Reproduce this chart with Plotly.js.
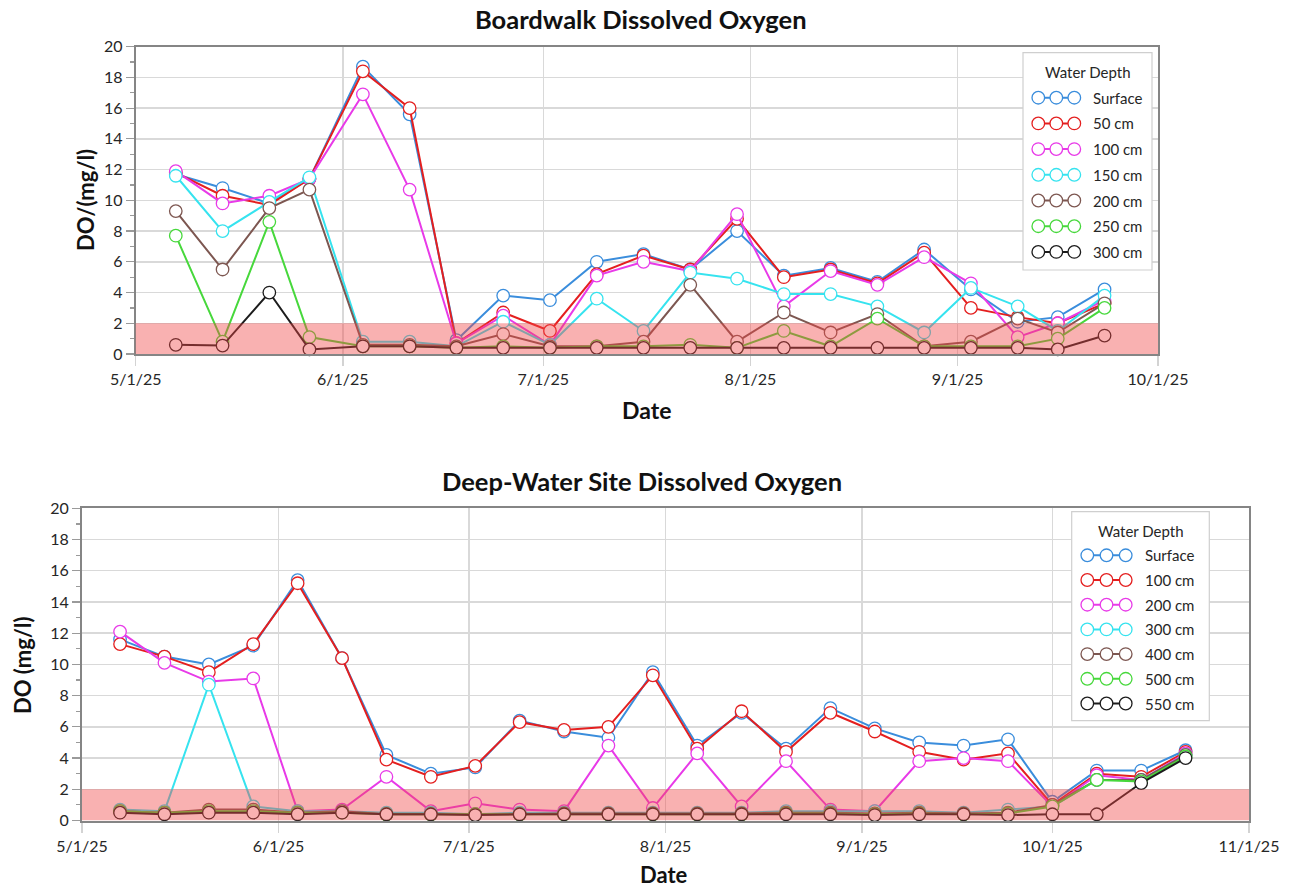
<!DOCTYPE html>
<html>
<head>
<meta charset="utf-8">
<script src="https://cdn.plot.ly/plotly-3.0.1.min.js"></script>
<style>
  html, body { margin: 0; padding: 0; background: #ffffff; }
  #chart { width: 1294px; height: 889px; }
</style>
</head>
<body>
<div id="chart"></div>
<script>
// ---- Boardwalk site: weekly DO readings (mg/l) by water depth ----
const boardwalkDates = ['2025-05-07','2025-05-14','2025-05-21','2025-05-27','2025-06-04','2025-06-11','2025-06-18',
  '2025-06-25','2025-07-02','2025-07-09','2025-07-16','2025-07-23','2025-07-30','2025-08-06','2025-08-13',
  '2025-08-20','2025-08-27','2025-09-03','2025-09-10','2025-09-16','2025-09-23'];
const bwSurface = [11.7,10.8,9.8,11.4,18.7,15.6,0.9,3.8,3.5,6.0,6.5,5.5,8.0,5.1,5.6,4.7,6.8,4.2,2.1,2.4,4.2];
const bw50  = [11.8,10.3,9.7,11.4,18.4,16.0,0.7,2.7,1.5,5.2,6.4,5.5,8.8,5.0,5.5,4.6,6.6,3.0,2.4,2.0,3.3];
const bw100 = [11.9,9.8,10.3,11.4,16.9,10.7,0.7,2.5,0.6,5.1,6.0,5.4,9.1,3.1,5.4,4.5,6.3,4.6,1.1,2.0,3.5];
const bw150 = [11.6,8.0,9.9,11.5,0.8,0.8,0.5,2.1,0.6,3.6,1.5,5.3,4.9,3.9,3.9,3.1,1.4,4.3,3.1,1.5,3.8];
const bw200 = [9.3,5.5,9.5,10.7,0.6,0.6,0.5,1.3,0.5,0.5,0.8,4.5,0.8,2.7,1.4,2.6,0.5,0.8,2.3,1.4,3.3];
const bw250 = [7.7,0.8,8.6,1.1,0.5,0.5,0.4,0.5,0.4,0.5,0.5,0.6,0.4,1.5,0.5,2.3,0.5,0.5,0.5,1.0,3.0];
const bw300 = [0.6,0.55,4.0,0.3,0.5,0.5,0.4,0.4,0.4,0.4,0.4,0.4,0.4,0.4,0.4,0.4,0.4,0.4,0.4,0.3,1.2];
const bwNames = ['Surface','50 cm','100 cm','150 cm','200 cm','250 cm','300 cm'];

// ---- Deep-water site: weekly DO readings (mg/l) by water depth ----
const deepDates = ['2025-05-07','2025-05-14','2025-05-21','2025-05-28','2025-06-04','2025-06-11','2025-06-18',
  '2025-06-25','2025-07-02','2025-07-09','2025-07-16','2025-07-23','2025-07-30','2025-08-06','2025-08-13',
  '2025-08-20','2025-08-27','2025-09-03','2025-09-10','2025-09-17','2025-09-24','2025-10-01','2025-10-08',
  '2025-10-15','2025-10-22'];
const dwSurface = [11.6,10.5,10.0,11.2,15.4,10.4,4.2,3.0,3.4,6.4,5.7,5.3,9.5,4.8,6.9,4.6,7.2,5.9,5.0,4.8,5.2,1.2,3.2,3.2,4.5];
const dw100 = [11.3,10.5,9.5,11.3,15.2,10.4,3.9,2.8,3.5,6.3,5.8,6.0,9.3,4.6,7.0,4.4,6.9,5.7,4.4,3.9,4.3,1.0,3.0,2.8,4.4];
const dw200 = [12.1,10.1,8.9,9.1,0.6,0.7,2.8,0.6,1.1,0.7,0.6,4.8,0.8,4.3,0.9,3.8,0.7,0.6,3.8,4.0,3.8,0.9,2.9,2.6,4.3];
const dw300 = [0.7,0.6,8.7,0.9,0.6,0.6,0.5,0.5,0.4,0.5,0.5,0.5,0.5,0.5,0.5,0.6,0.6,0.6,0.6,0.5,0.7,0.9,2.6,2.6,4.2];
const dw400 = [0.6,0.5,0.7,0.7,0.5,0.6,0.4,0.4,0.4,0.4,0.45,0.45,0.45,0.45,0.45,0.5,0.5,0.45,0.5,0.45,0.5,1.0,2.6,2.6,4.2];
const dw500 = [0.6,0.5,0.6,0.6,0.5,0.5,0.4,0.4,0.4,0.4,0.4,0.4,0.4,0.4,0.4,0.45,0.45,0.4,0.45,0.4,0.45,0.9,2.6,2.5,4.1];
const dw550 = [0.5,0.4,0.5,0.5,0.4,0.5,0.4,0.4,0.35,0.4,0.4,0.4,0.4,0.4,0.4,0.4,0.4,0.35,0.4,0.4,0.35,0.4,0.4,2.4,4.0];
const dwNames = ['Surface','100 cm','200 cm','300 cm','400 cm','500 cm','550 cm'];

// Hypoxia threshold band (mg/l)
const lowDOLimit = 2;

const yTickVals = [0,2,4,6,8,10,12,14,16,18,20];
const depthColors = ['#3a8ddc','#e41f1f','#e83ae8','#36e3ef','#7d5751','#47d83c','#1c1c1c'];

const W = 1294, H = 889;
const px = x => x / W;
const py = y => 1 - y / H;
const FONT = 'Lato, "Open Sans", sans-serif';

function seriesTraces(dates, seriesList, names, xa, ya) {
  return seriesList.map((vals, i) => ({
    type: 'scatter', mode: 'lines+markers',
    x: dates, y: vals, name: names[i], xaxis: xa, yaxis: ya,
    showlegend: false, cliponaxis: false,
    line: { color: depthColors[i], width: 2 },
    marker: { symbol: 'circle', size: 12.5, color: '#ffffff', line: { color: depthColors[i], width: 1.3 } }
  }));
}

const traces = [
  ...seriesTraces(boardwalkDates, [bwSurface,bw50,bw100,bw150,bw200,bw250,bw300], bwNames, 'x', 'y'),
  ...seriesTraces(deepDates, [dwSurface,dw100,dw200,dw300,dw400,dw500,dw550], dwNames, 'x2', 'y2')
];

function xAxis(domain, range) {
  return {
    domain: domain, type: 'date', range: range,
    dtick: 'M1', tick0: '2025-05-01', tickformat: '%-m/%-d/%y',
    showgrid: true, gridcolor: '#d9d9d9', gridwidth: 1.5,
    ticks: 'outside', ticklen: 10, tickcolor: '#d3d3d3', tickwidth: 1.5,
    showline: true, linecolor: '#858585', linewidth: 2, mirror: true,
    tickfont: { family: FONT, size: 16, color: '#262626' },
    zeroline: false, fixedrange: true
  };
}
function yAxis(domain, anchor) {
  return {
    domain: domain, anchor: anchor, range: [0, 20],
    tickvals: yTickVals,
    showgrid: true, gridcolor: '#d9d9d9', gridwidth: 1.5,
    ticks: 'outside', ticklen: 8, tickcolor: '#9a9a9a', tickwidth: 1.2,
    minor: { dtick: 1, ticks: 'outside', ticklen: 4, tickcolor: '#9a9a9a', showgrid: false },
    showline: true, linecolor: '#858585', linewidth: 2, mirror: true,
    tickfont: { family: FONT, size: 16, color: '#262626' },
    zeroline: false, fixedrange: true
  };
}

const shapes = [
  { type: 'rect', xref: 'x domain', yref: 'y', x0: 0, x1: 1, y0: 0, y1: lowDOLimit,
    fillcolor: 'rgba(240,70,70,0.42)', line: { width: 0 }, layer: 'above' },
  { type: 'rect', xref: 'x2 domain', yref: 'y2', x0: 0, x1: 1, y0: 0, y1: lowDOLimit,
    fillcolor: 'rgba(240,70,70,0.42)', line: { width: 0 }, layer: 'above' }
];
const annotations = [];

function addText(text, x, y, size, bold, opts) {
  annotations.push(Object.assign({
    text: bold ? '<b>' + text + '</b>' : text,
    xref: 'paper', yref: 'paper', x: px(x), y: py(y),
    xanchor: 'center', yanchor: 'middle', showarrow: false,
    font: { family: FONT, size: size, color: '#111111' }
  }, opts || {}));
}

// Legend box with three-circle swatches for each depth
function addLegend(names, box, titleY, rowY0, rowStep, circleXs, textX) {
  shapes.push({ type: 'rect', xref: 'paper', yref: 'paper',
    x0: px(box[0]), x1: px(box[2]), y0: py(box[3]), y1: py(box[1]),
    fillcolor: '#ffffff', line: { color: '#cfcfcf', width: 1.2 }, layer: 'above' });
  addText('Water Depth', (box[0] + box[2]) / 2, titleY, 15, false, { font: { family: FONT, size: 15, color: '#262626' } });
  const r = 6.3;
  names.forEach((n, i) => {
    const cy = rowY0 + i * rowStep;
    const c = depthColors[i];
    shapes.push({ type: 'line', xref: 'paper', yref: 'paper',
      x0: px(circleXs[0]), x1: px(circleXs[2]), y0: py(cy), y1: py(cy),
      line: { color: c, width: 2 }, layer: 'above' });
    circleXs.forEach(cx => shapes.push({ type: 'circle', xref: 'paper', yref: 'paper',
      x0: px(cx - r), x1: px(cx + r), y0: py(cy + r), y1: py(cy - r),
      fillcolor: '#ffffff', line: { color: c, width: 1.3 }, layer: 'above' }));
    addText(n, textX, cy, 15, false, { xanchor: 'left', font: { family: FONT, size: 15, color: '#262626' } });
  });
}

// Titles
addText('Boardwalk Dissolved Oxygen', 641, 19, 25.5, true);
addText('Deep-Water Site Dissolved Oxygen', 642, 481, 25.5, true);
addText('Date', 646, 410, 23, true);
addText('Date', 664, 874, 22, true);
addText('DO/(mg/l)', 85, 200, 22, true, { textangle: -90 });
addText('DO (mg/l)', 22, 665, 22, true, { textangle: -90 });

addLegend(bwNames, [1023, 52.7, 1152, 270], 72, 97.7, 25.7, [1038.3, 1056.3, 1074.3], 1090.7);
addLegend(dwNames, [1071.7, 511.7, 1209.3, 720.7], 531, 555.3, 24.7, [1087.3, 1106.5, 1125.7], 1143.3);

const layout = {
  width: W, height: H,
  margin: { l: 0, r: 0, t: 0, b: 0 },
  paper_bgcolor: '#ffffff', plot_bgcolor: '#ffffff',
  showlegend: false, hovermode: false,
  font: { family: FONT },
  xaxis: Object.assign(xAxis([px(135.7), px(1158)], ['2025-05-01', '2025-10-01']), { anchor: 'y' }),
  yaxis: yAxis([py(354), py(46.7)], 'x'),
  xaxis2: Object.assign(xAxis([px(82), px(1249)], ['2025-05-01', '2025-11-01']), { anchor: 'y2' }),
  yaxis2: yAxis([py(820.5), py(508.3)], 'x2'),
  shapes: shapes,
  annotations: annotations
};

Plotly.newPlot('chart', traces, layout, { staticPlot: true, displayModeBar: false });
</script>
</body>
</html>
